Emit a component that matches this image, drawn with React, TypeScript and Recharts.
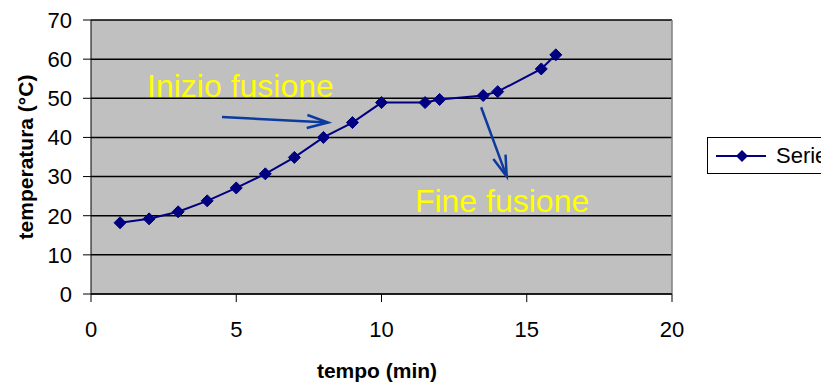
import {
  LineChart,
  Line,
  XAxis,
  YAxis,
  CartesianGrid,
  Legend,
  Label,
  ReferenceLine,
  ReferenceDot,
} from "recharts";

// tempo (min) e temperatura (°C)
const TIMES = [1, 2, 3, 4, 5, 6, 7, 8, 9, 10, 11.5, 12, 13.5, 14, 15.5, 16];
const TEMPS = [18.2, 19.2, 21, 23.8, 27.1, 30.7, 34.9, 40, 43.8, 48.9, 48.9, 49.7, 50.7, 51.7, 57.5, 61.1];

const X_TICKS = [0, 5, 10, 15, 20];
const Y_TICKS = [0, 10, 20, 30, 40, 50, 60, 70];

const SERIES_NAME = "Serie1";

// annotazioni (coordinate nei dati)
const NOTE_START = { text: "Inizio fusione", x: 1.93, y: 50.3 };
const NOTE_END = { text: "Fine fusione", x: 11.15, y: 21.0 };
const ARROW_START = [
  { x: 4.51, y: 45.2 },
  { x: 8.16, y: 43.8 },
];
const ARROW_END = [
  { x: 13.43, y: 47.7 },
  { x: 14.31, y: 30.0 },
];

const FONT = "'Liberation Sans', Arial, sans-serif";
const NAVY = "#000080";
const ARROW_BLUE = "#0d3a9e";

const data = TIMES.map((t, i) => ({ t, temp: TEMPS[i] }));

function Diamond(props: any) {
  const { cx, cy, index } = props;
  if (cx == null || cy == null) return <g key={index} />;
  const r = 6;
  return (
    <path
      key={index}
      d={`M${cx},${cy - r}L${cx + r},${cy}L${cx},${cy + r}L${cx - r},${cy}Z`}
      fill={NAVY}
      stroke={NAVY}
    />
  );
}

function Arrow(props: any) {
  const { x1, y1, x2, y2 } = props;
  const a = Math.atan2(y2 - y1, x2 - x1);
  const len = 22;
  const spread = 0.3;
  const w1x = x2 - len * Math.cos(a - spread);
  const w1y = y2 - len * Math.sin(a - spread);
  const w2x = x2 - len * Math.cos(a + spread);
  const w2y = y2 - len * Math.sin(a + spread);
  return (
    <g>
      <line x1={x1} y1={y1} x2={x2} y2={y2} stroke={ARROW_BLUE} strokeWidth={2.5} />
      <path
        d={`M${w1x},${w1y}L${x2},${y2}L${w2x},${w2y}`}
        fill="none"
        stroke={ARROW_BLUE}
        strokeWidth={2.5}
      />
    </g>
  );
}

function noteText(text: string) {
  return (props: any) => (
    <text
      x={props.cx}
      y={props.cy}
      fill="#ffff00"
      fontSize={32}
      fontFamily={FONT}
      textAnchor="start"
    >
      {text}
    </text>
  );
}

function LegendBox() {
  return (
    <div
      style={{
        display: "flex",
        alignItems: "center",
        height: 35,
        width: 150,
        border: "1px solid #000",
        background: "#fff",
        fontFamily: FONT,
        fontSize: 22,
        color: "#000",
        boxSizing: "content-box",
      }}
    >
      <svg width={62} height={20} style={{ marginLeft: 6 }}>
        <line x1={2} y1={10} x2={52} y2={10} stroke={NAVY} strokeWidth={2} />
        <path d="M28,4L34,10L28,16L22,10Z" fill={NAVY} />
      </svg>
      <span style={{ marginLeft: 0 }}>{SERIES_NAME}</span>
    </div>
  );
}

export default function App() {
  return (
    <div
      style={{
        position: "absolute",
        left: 0,
        top: 0,
        width: 821,
        height: 383,
        overflow: "hidden",
        background: "#fff",
        fontFamily: FONT,
      }}
    >
      <LineChart
        width={821}
        height={383}
        data={data}
        margin={{ top: 20, right: 149, bottom: 0, left: 0 }}
      >
        <CartesianGrid
          vertical={false}
          stroke="#000"
          strokeWidth={1.5}
          fill="#c0c0c0"
          fillOpacity={1}
        />
        <XAxis
          dataKey="t"
          type="number"
          domain={[0, 20]}
          ticks={X_TICKS}
          height={89}
          tickSize={8}
          tickMargin={19}
          stroke="#000"
          tick={{ fontSize: 22, fill: "#000", fontFamily: FONT }}
        >
          <Label
            content={() => (
              <text
                x={377}
                y={378}
                textAnchor="middle"
                fontSize={21}
                fontWeight="bold"
                fontFamily={FONT}
                fill="#000"
              >
                tempo (min)
              </text>
            )}
          />
        </XAxis>
        <YAxis
          type="number"
          domain={[0, 70]}
          ticks={Y_TICKS}
          width={91}
          tickSize={8}
          tickMargin={11}
          stroke="#000"
          tick={{ fontSize: 22, fill: "#000", fontFamily: FONT }}
        >
          <Label
            content={(props: any) => {
              const vb = props.viewBox || { y: 20, height: 274 };
              const cx = 25;
              const cy = vb.y + vb.height / 2;
              return (
                <text
                  x={cx}
                  y={cy}
                  transform={`rotate(-90 ${cx} ${cy})`}
                  textAnchor="middle"
                  dominantBaseline="central"
                  fontSize={21}
                  fontWeight="bold"
                  fontFamily={FONT}
                  fill="#000"
                >
                  temperatura (°C)
                </text>
              );
            }}
          />
        </YAxis>
        <ReferenceLine x={20} stroke="#808080" strokeWidth={1.5} />
        <Line
          type="linear"
          dataKey="temp"
          name={SERIES_NAME}
          stroke={NAVY}
          strokeWidth={2}
          dot={Diamond}
          activeDot={false}
          isAnimationActive={false}
        />
        <ReferenceLine segment={ARROW_START} shape={Arrow} ifOverflow="visible" />
        <ReferenceLine segment={ARROW_END} shape={Arrow} ifOverflow="visible" />
        <ReferenceDot
          x={NOTE_START.x}
          y={NOTE_START.y}
          r={0}
          shape={noteText(NOTE_START.text)}
          ifOverflow="visible"
        />
        <ReferenceDot
          x={NOTE_END.x}
          y={NOTE_END.y}
          r={0}
          shape={noteText(NOTE_END.text)}
          ifOverflow="visible"
        />
        <Legend
          layout="horizontal"
          align="center"
          verticalAlign="middle"
          wrapperStyle={{ left: 707, top: 137, width: 150 }}
          content={() => <LegendBox />}
        />
      </LineChart>
    </div>
  );
}
